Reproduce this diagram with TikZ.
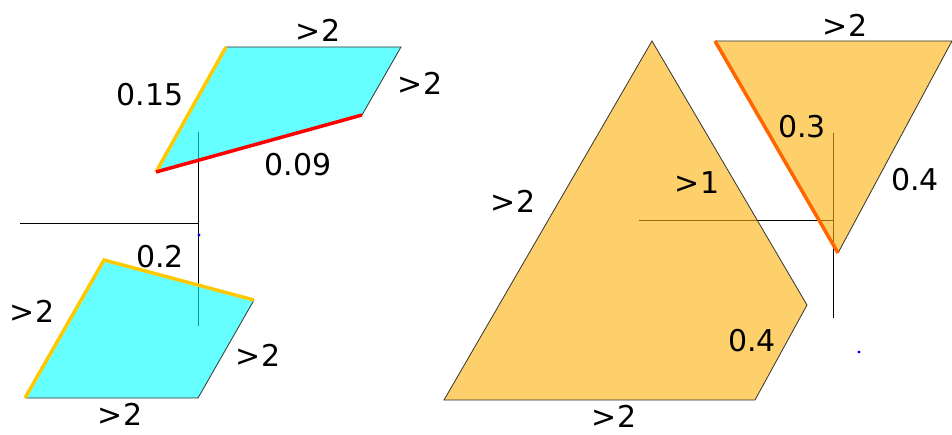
\documentclass[tikz,border=0pt]{standalone}
\usepackage{fontspec}
\setmainfont{DejaVu Sans}
\definecolor{ciano0}{RGB}{0,255,255}
\definecolor{laranja0}{RGB}{251,177,8}
\definecolor{amarelo0}{RGB}{255,200,0}
\definecolor{laranja1}{RGB}{255,102,0}
\begin{document}
\begin{tikzpicture}[x=1pt, y=-1pt,
  lbl/.style={font=\fontsize{30}{34}\selectfont, inner sep=0pt},
  axe/.style={draw=black, line width=0.8pt},
  ciano/.style={fill=ciano0, fill opacity=0.6},
  laranja/.style={fill=laranja0, fill opacity=0.6},
  borda/.style={draw=black!80, line width=0.8pt},
  amarela/.style={draw=amarelo0, line width=3.5pt},
  vermelha/.style={draw=red, line width=3.5pt},
  laranjaesc/.style={draw=laranja1, line width=3.5pt}]
\useasboundingbox (0,0) rectangle (952,435);
% eixos
\coordinate (e1a) at (198,132);
\coordinate (e1b) at (198,326);
\coordinate (e1c) at (20,223);
\coordinate (e1d) at (198,223);
\draw[axe] (e1a) -- (e1b);
\draw[axe] (e1c) -- (e1d);
\fill[blue] (199,235) circle (1.6);
\coordinate (e2a) at (833,133);
\coordinate (e2b) at (833,318);
\coordinate (e2c) at (639,220);
\coordinate (e2d) at (833,220);
\draw[axe] (e2a) -- (e2b);
\draw[axe] (e2c) -- (e2d);
\fill[blue] (859,352) circle (1.6);
% paralelogramo de cima
\coordinate (a1) at (156,172);
\coordinate (a2) at (226,47);
\coordinate (a3) at (401,47);
\coordinate (a4) at (362,115);
\fill[ciano] (a1) -- (a2) -- (a3) -- (a4) -- cycle;
\draw[borda] (a2) -- (a3) -- (a4);
\draw[amarela] (a1) -- (a2);
\draw[vermelha] (a1) -- (a4);
% paralelogramo de baixo
\coordinate (b1) at (25,398);
\coordinate (b2) at (104,260);
\coordinate (b3) at (254,300);
\coordinate (b4) at (198,398);
\fill[ciano] (b1) -- (b2) -- (b3) -- (b4) -- cycle;
\draw[borda] (b3) -- (b4) -- (b1);
\draw[amarela] (b1) -- (b2) -- (b3);
% pentagono
\coordinate (p1) at (444,400);
\coordinate (p2) at (652,41);
\coordinate (p3) at (807,305);
\coordinate (p4) at (755,400);
\fill[laranja] (p1) -- (p2) -- (p3) -- (p4) -- cycle;
\draw[borda] (p1) -- (p2) -- (p3) -- (p4) -- cycle;
% triangulo
\coordinate (t1) at (715,41);
\coordinate (t2) at (952,41);
\coordinate (t3) at (838,253);
\fill[laranja] (t1) -- (t2) -- (t3) -- cycle;
\draw[borda] (t1) -- (t2) -- (t3);
\draw[laranjaesc] (t1) -- (t3);
% rotulos
\node[lbl] (la1) at (318,30) {>2};
\node[lbl] (la2) at (420,83) {>2};
\node[lbl] (la3) at (150,95) {0.15};
\node[lbl] (la4) at (298,165) {0.09};
\node[lbl] (lb1) at (160,257) {0.2};
\node[lbl] (lb2) at (32,311) {>2};
\node[lbl] (lb3) at (258,355) {>2};
\node[lbl] (lb4) at (120,414) {>2};
\node[lbl] (lp1) at (513,201) {>2};
\node[lbl] (lp2) at (697,183) {>1};
\node[lbl] (lp3) at (752,341) {0.4};
\node[lbl] (lp4) at (614,416) {>2};
\node[lbl] (lt1) at (845,25) {>2};
\node[lbl] (lt2) at (802,127) {0.3};
\node[lbl] (lt3) at (915,180) {0.4};
\end{tikzpicture}
\end{document}
